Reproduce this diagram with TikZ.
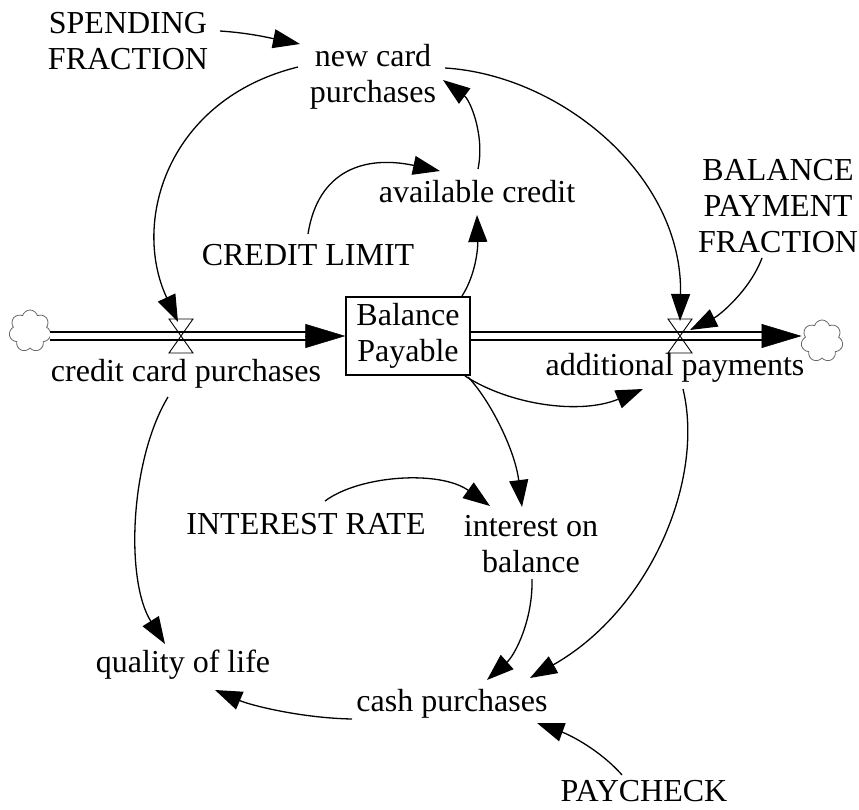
\documentclass[tikz,border=0pt]{standalone}
\usepackage{fontspec}
\setmainfont{Liberation Serif}
\usetikzlibrary{arrows.meta,shapes.symbols}

\begin{document}
\begin{tikzpicture}[x=1pt, y=1pt,
  font=\fontsize{32}{36}\selectfont,
  var/.style={align=center, inner sep=0pt},
  link/.style={line width=1.3pt, -{Triangle[length=27pt,width=19pt]}},
  pipe/.style={line width=1.3pt, double, double distance=6.5pt},
  sky/.style={cloud, cloud puffs=7, aspect=1, minimum width=42pt,
    minimum height=42pt, draw=black!60, line width=0.8pt, inner sep=0pt}]
  \useasboundingbox (0,0) rectangle (859,-810);
  % stock, clouds and valves
  \node[draw, line width=1.3pt, minimum width=124pt, minimum height=78pt,
    align=center, inner sep=0pt] (bal) at (408,-336) {Balance\\Payable};
  \node[sky] (srcL) at (30,-331) {};
  \node[sky] (sinkR) at (822,-341) {};
  \coordinate (vin) at (181,-336);
  \coordinate (vout) at (680,-336);
  \coordinate (pend) at (sinkR.west |- vout);
  \draw[pipe] (srcL.east |- vin) -- ([xshift=-38pt]bal.west);
  \draw[line width=0.5pt, -{Triangle[length=40pt,width=24pt]}]
    ([xshift=-40pt]bal.west) -- (bal.west);
  \draw[pipe] (bal.east) -- ([xshift=-38pt]pend);
  \draw[line width=0.5pt, -{Triangle[length=40pt,width=24pt]}]
    ([xshift=-40pt]pend) -- (pend);
  \foreach \v in {vin,vout}
    \draw[line width=0.9pt] ([shift={(-12,17)}]\v) -- ([shift={(12,17)}]\v)
      -- ([shift={(-12,-17)}]\v) -- ([shift={(12,-17)}]\v) -- cycle;
  % variables
  \node[var] (sf) at (128,-41) {SPENDING\\FRACTION};
  \node[var] (ncp) at (373,-77) {new card\\purchases};
  \node[var] (ac) at (477,-192) {available credit};
  \node[var] (cl) at (308,-255) {CREDIT LIMIT};
  \node[var] (bpf) at (778,-206) {BALANCE\\PAYMENT\\FRACTION};
  \node[var] (ccp) at (186,-374) {credit card purchases};
  \node[var] (ap) at (675,-368) {additional payments};
  \node[var] (ir) at (306,-524) {INTEREST RATE};
  \node[var] (iob) at (531,-544) {interest on\\balance};
  \node[var] (qol) at (183,-665) {quality of life};
  \node[var] (cash) at (452,-704) {cash purchases};
  \node[var] (pay) at (644,-791) {PAYCHECK};
  % links
  \draw[link] ([shift={(92,10)}]sf.center) .. controls +(30,-2) and +(-30,6)
    .. ([shift={(-73,33)}]ncp.center);
  \draw[link] ([shift={(-75,10)}]ncp.center) .. controls +(-130,-32) and +(-47,101)
    .. ([shift={(-3,14)}]vin);
  \draw[link] ([shift={(72,9)}]ncp.center) .. controls +(115,-7) and +(3,146)
    .. ([shift={(0,15)}]vout);
  \draw[link] ([shift={(1,23)}]ac.center) .. controls +(7,34) and +(27,-20)
    .. ([shift={(70,-3)}]ncp.center);
  \draw[link] ([shift={(0,21)}]cl.center) .. controls +(10,64) and +(-75,16)
    .. ([shift={(-37,21)}]ac.center);
  \draw[link] ([shift={(54,40)}]bal.center) .. controls +(13,20) and +(1,-35)
    .. ([shift={(0,-23)}]ac.center);
  \draw[link] ([shift={(-16,-52)}]bpf.center) .. controls +(-12,-32) and +(30,15)
    .. ([shift={(10,6)}]vout);
  \draw[link] ([shift={(57,-40)}]bal.center) .. controls +(45,-29) and +(-63,-26)
    .. ([shift={(-32,-21)}]ap.center);
  \draw[link] ([shift={(60,-41)}]bal.center) .. controls +(22,-23) and +(-7,57)
    .. ([shift={(-9,37)}]iob.center);
  \draw[link] ([shift={(19,23)}]ir.center) .. controls +(35,26) and +(-50,36)
    .. ([shift={(-41,38)}]iob.center);
  \draw[link] ([shift={(1,-35)}]iob.center) .. controls +(1,-41) and +(28,25)
    .. ([shift={(35,24)}]cash.center);
  \draw[link] ([shift={(8,-21)}]ap.center) .. controls +(22,-91) and +(120,68)
    .. ([shift={(78,26)}]cash.center);
  \draw[link] ([shift={(-18,-23)}]ccp.center) .. controls +(-38,-63) and +(-40,64)
    .. ([shift={(-18,21)}]qol.center);
  \draw[link] ([shift={(-100,-15)}]cash.center) .. controls +(-52,1) and +(35,-15)
    .. ([shift={(32,-25)}]qol.center);
  \draw[link] ([shift={(-22,16)}]pay.center) .. controls +(-22,25) and +(33,-12)
    .. ([shift={(85,-19)}]cash.center);
\end{tikzpicture}
\end{document}
